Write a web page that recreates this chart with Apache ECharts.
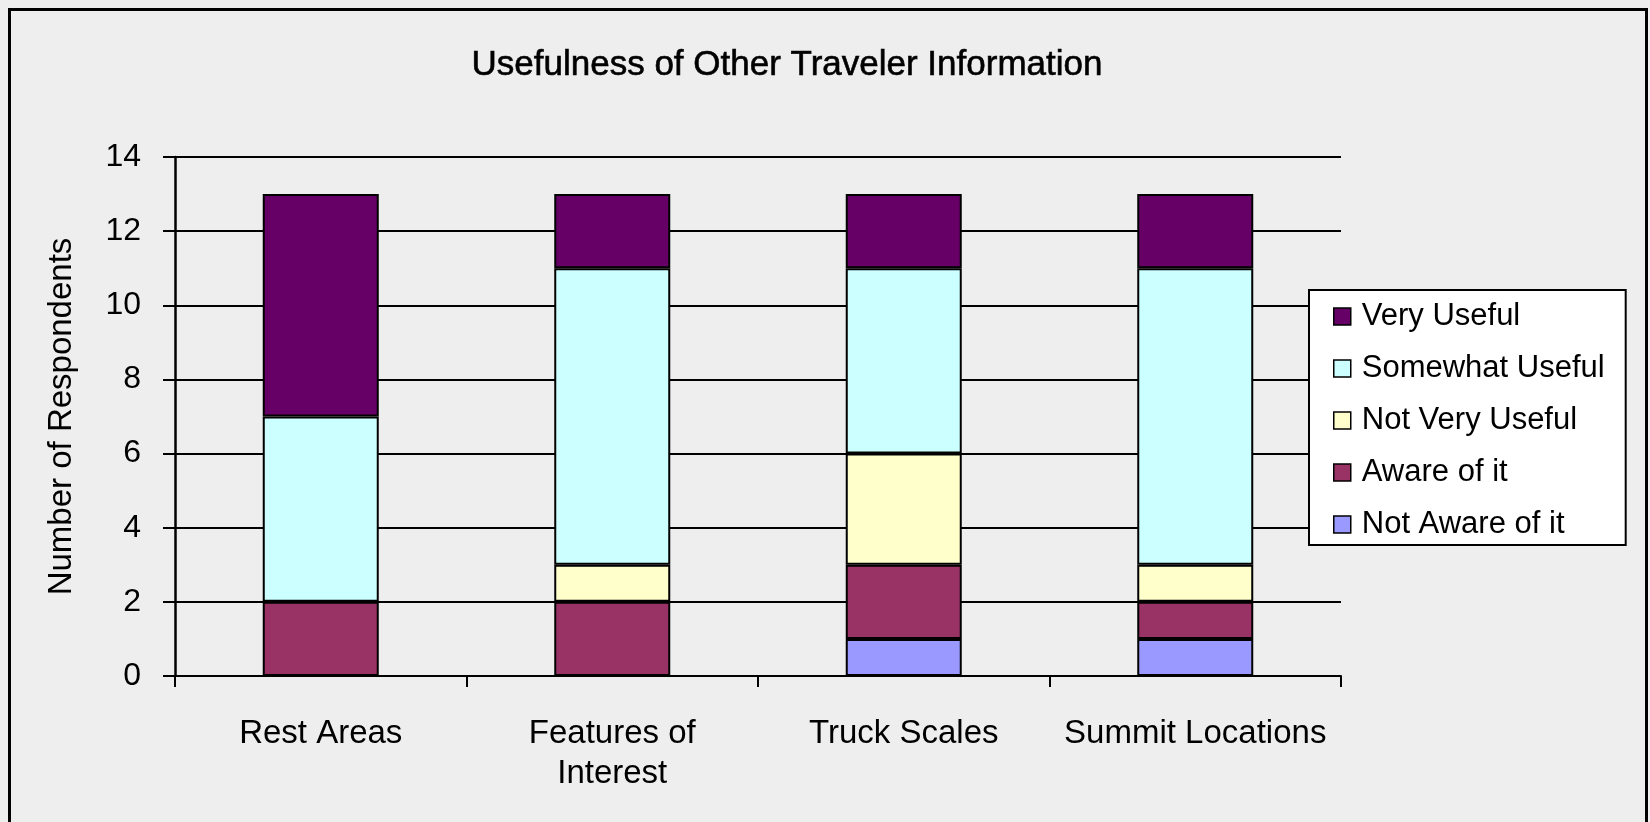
<!DOCTYPE html>
<html>
<head>
<meta charset="utf-8">
<title>Usefulness of Other Traveler Information</title>
<script src="https://cdn.jsdelivr.net/npm/echarts@6/dist/echarts.min.js"></script>
<style>
  html, body { margin: 0; padding: 0; background: #eeeeee; }
  #frame { position: absolute; left: 8px; top: 8px; width: 1640px; height: 830px; border: 3px solid #000; box-sizing: border-box; }
  #chart { position: absolute; left: 0; top: 0; width: 1650px; height: 822px; }
</style>
</head>
<body>
<div id="frame"></div>
<div id="chart"></div>
<script type="text/javascript">
    // categories + counts per answer (stacked bottom -> top)
    var categories = ['Rest Areas', 'Features of\nInterest', 'Truck Scales', 'Summit Locations'];
    var notAware   = [0, 0, 1, 1];
    var aware      = [2, 2, 2, 1];
    var notVery    = [0, 1, 3, 1];
    var somewhat   = [5, 8, 5, 8];
    var veryUseful = [6, 2, 2, 2];
    var yTicks = [0, 2, 4, 6, 8, 10, 12, 14];

    var font = 'Liberation Sans, Arial, sans-serif';

    function barSeries(name, data, color) {
        return {
            name: name,
            type: 'bar',
            stack: 'total',
            barWidth: 116,
            data: data,
            itemStyle: { color: color, borderColor: '#000', borderWidth: 2 },
            emphasis: { disabled: true }
        };
    }

    var myChart = echarts.init(document.getElementById('chart'));
    var option = {
        backgroundColor: 'transparent',
        animation: false,
        title: {
            text: 'Usefulness of Other Traveler Information',
            left: 782,
            textAlign: 'center',
            top: 43,
            textStyle: { fontFamily: font, fontSize: 35, fontWeight: 'normal', color: '#000', textBorderColor: '#000', textBorderWidth: 0.6 }
        },
        legend: {
            orient: 'vertical',
            left: 1309,
            top: 290,
            padding: [11, 21, 5, 24],
            backgroundColor: '#fff',
            borderColor: '#000',
            borderWidth: 2,
            itemWidth: 17,
            itemHeight: 17,
            itemGap: 21,
            icon: 'rect',
            itemStyle: { borderWidth: 1.5, borderColor: '#000' },
            data: ['Very Useful', 'Somewhat Useful', 'Not Very Useful', 'Aware of it', 'Not Aware of it'],
            textStyle: { fontFamily: font, fontSize: 31, color: '#000', padding: [0, 0, 0, 6] }
        },
        grid: { left: 175, right: 309, top: 157, bottom: 146 },
        xAxis: {
            type: 'category',
            data: categories,
            axisLine: { lineStyle: { color: '#000', width: 2 } },
            axisTick: { show: true, length: 11, lineStyle: { color: '#000', width: 2 } },
            axisLabel: { fontFamily: font, fontSize: 33, color: '#000', margin: 38, lineHeight: 40, interval: 0 }
        },
        yAxis: {
            type: 'value',
            min: yTicks[0],
            max: yTicks[yTicks.length - 1],
            interval: 2,
            name: 'Number of Respondents',
            nameLocation: 'middle',
            nameGap: 97,
            nameTextStyle: { fontFamily: font, fontSize: 33, color: '#000' },
            axisLine: { show: true, lineStyle: { color: '#000', width: 2.5 } },
            axisTick: { show: true, length: 12, lineStyle: { color: '#000', width: 2 } },
            axisLabel: { fontFamily: font, fontSize: 32, color: '#000', margin: 34 },
            splitLine: { show: true, lineStyle: { color: '#000', width: 2 } }
        },
        series: [
            barSeries('Not Aware of it', notAware, '#9999ff'),
            barSeries('Aware of it', aware, '#993366'),
            barSeries('Not Very Useful', notVery, '#ffffcc'),
            barSeries('Somewhat Useful', somewhat, '#ccffff'),
            barSeries('Very Useful', veryUseful, '#660066')
        ]
    };
    myChart.setOption(option);
</script>
</body>
</html>
